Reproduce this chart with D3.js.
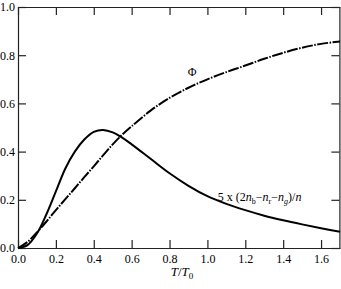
<!DOCTYPE html>
<html>
<head>
<meta charset="utf-8">
<script src="https://cdn.jsdelivr.net/npm/d3@7"></script>
<style>
	body { margin: 0; background: #fff; }
	.axis path, .axis line { stroke: #222; stroke-width: 1.2; }
</style>
</head>
<body>
<svg id="plot" width="341" height="289"></svg>
<script>
// values
const T_VALUES   = [0, 0.05, 0.1, 0.15, 0.2, 0.25, 0.3, 0.35, 0.4, 0.45, 0.5, 0.55, 0.6, 0.7, 0.8, 0.9, 1.0, 1.1, 1.2, 1.3, 1.4, 1.5, 1.6, 1.7];
const ASYMMETRY  = [0, 0.012, 0.06, 0.14, 0.235, 0.33, 0.40, 0.45, 0.482, 0.49, 0.48, 0.458, 0.43, 0.37, 0.31, 0.258, 0.215, 0.183, 0.157, 0.134, 0.115, 0.098, 0.082, 0.067];
const PHI        = [0, 0.025, 0.065, 0.11, 0.157, 0.203, 0.248, 0.294, 0.339, 0.385, 0.43, 0.47, 0.505, 0.57, 0.623, 0.665, 0.70, 0.73, 0.757, 0.785, 0.81, 0.831, 0.847, 0.857];
const X_TICKS = [0, 0.2, 0.4, 0.6, 0.8, 1.0, 1.2, 1.4, 1.6];
const Y_TICKS = [0, 0.2, 0.4, 0.6, 0.8, 1.0];

const W = 341, H = 289;
const margin = { top: 7, right: 1, bottom: 41, left: 18 };
const SERIF = '"Liberation Serif", "Times New Roman", "DejaVu Serif", serif';

const svg = d3.select('#plot');
const x = d3.scaleLinear().domain([0, 1.7]).range([margin.left, W - margin.right]);
const y = d3.scaleLinear().domain([0, 1]).range([H - margin.bottom, margin.top]);

// axes, ticks pointing inwards
svg.append('g').attr('class', 'axis')
	.attr('transform', `translate(0,${y(0)})`)
	.call(d3.axisBottom(x).tickValues(X_TICKS).tickFormat(d3.format('.1f'))
		.tickSizeInner(-8).tickSizeOuter(0).tickPadding(6));

svg.append('g').attr('class', 'axis')
	.attr('transform', `translate(0,${y(1)})`)
	.call(d3.axisTop(x).tickValues(X_TICKS).tickFormat('')
		.tickSizeInner(-8).tickSizeOuter(0));

svg.append('g').attr('class', 'axis')
	.attr('transform', `translate(${x(0)},0)`)
	.call(d3.axisLeft(y).tickValues(Y_TICKS).tickFormat(d3.format('.1f'))
		.tickSizeInner(-8).tickSizeOuter(0).tickPadding(3));

svg.append('g').attr('class', 'axis')
	.attr('transform', `translate(${x(1.7) - 0.6},0)`)
	.call(d3.axisRight(y).tickValues(Y_TICKS).tickFormat('')
		.tickSizeInner(-8).tickSizeOuter(0));

svg.selectAll('.axis')
	.attr('font-family', SERIF)
	.attr('font-size', 12);
svg.selectAll('.axis text').attr('fill', '#000');

// curves
const line = d3.line()
	.x((d, i) => x(T_VALUES[i]))
	.y(d => y(d))
	.curve(d3.curveCatmullRom.alpha(0.5));

svg.append('path')
	.datum(ASYMMETRY)
	.attr('d', line)
	.attr('fill', 'none')
	.attr('stroke', '#000')
	.attr('stroke-width', 2);

svg.append('path')
	.datum(PHI)
	.attr('d', line)
	.attr('fill', 'none')
	.attr('stroke', '#000')
	.attr('stroke-width', 2)
	.attr('stroke-dasharray', '11,1.5,1.5,1.5');

// labels
svg.append('text')
	.attr('x', x(0.92)).attr('y', y(0.715))
	.attr('text-anchor', 'middle')
	.attr('font-family', SERIF)
	.attr('font-size', 12)
	.text('Φ');

const lab = svg.append('text')
	.attr('x', x(1.055)).attr('y', y(0.195))
	.attr('font-family', SERIF)
	.attr('font-size', 12);
lab.append('tspan').text('5 x (2');
lab.append('tspan').attr('font-style', 'italic').text('n');
lab.append('tspan').attr('dy', 3).attr('font-size', 8).text('b');
lab.append('tspan').attr('dy', -3).text('\u2212');
lab.append('tspan').attr('font-style', 'italic').text('n');
lab.append('tspan').attr('dy', 3).attr('font-size', 8).text('r');
lab.append('tspan').attr('dy', -3).text('\u2212');
lab.append('tspan').attr('font-style', 'italic').text('n');
lab.append('tspan').attr('dy', 3).attr('font-size', 8).attr('font-style', 'italic').text('g');
lab.append('tspan').attr('dy', -3).text(')/');
lab.append('tspan').attr('font-style', 'italic').text('n');

const xt = svg.append('text')
	.attr('x', (x(0) + x(1.7)) / 2 + 3).attr('y', 276)
	.attr('text-anchor', 'middle')
	.attr('font-family', SERIF)
	.attr('font-size', 13);
xt.append('tspan').attr('font-style', 'italic').text('T');
xt.append('tspan').text('/');
xt.append('tspan').attr('font-style', 'italic').text('T');
xt.append('tspan').attr('dy', 3).attr('font-size', 9).text('0');
</script>
</body>
</html>
